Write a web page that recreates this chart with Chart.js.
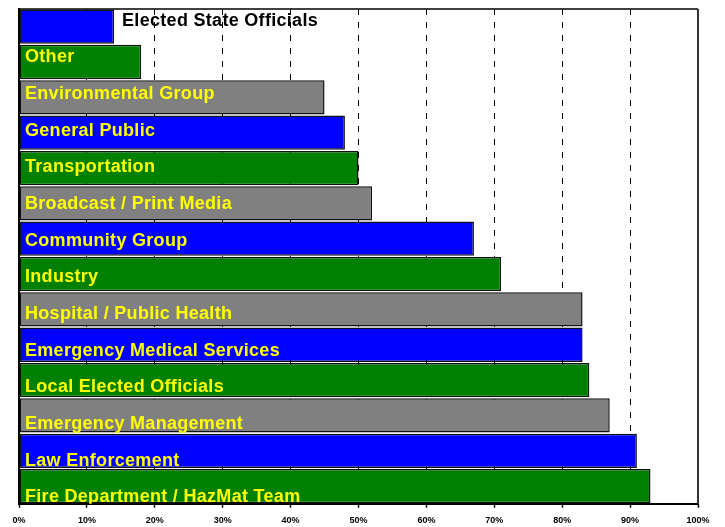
<!DOCTYPE html>
<html>
<head>
<meta charset="utf-8">
<script src="https://cdn.jsdelivr.net/npm/chart.js@4/dist/chart.umd.min.js"></script>
<style>
  html, body { margin: 0; padding: 0; background: #fff; }
  #wrap { width: 725px; height: 527px; }
</style>
</head>
<body>
<div id="wrap"><canvas id="chartCanvas"></canvas></div>
<script>
// groups, top to bottom
const groups = [
    "Elected State Officials",
    "Other",
    "Environmental Group",
    "General Public",
    "Transportation",
    "Broadcast / Print Media",
    "Community Group",
    "Industry",
    "Hospital / Public Health",
    "Emergency Medical Services",
    "Local Elected Officials",
    "Emergency Management",
    "Law Enforcement",
    "Fire Department / HazMat Team"
];
// percent of respondents
const percents = [14, 18, 45, 48, 50, 52, 67, 71, 83, 83, 84, 87, 91, 93];
const barColors = [
    "#0000ff", "#008000", "#808080", "#0000ff", "#008000", "#808080", "#0000ff",
    "#008000", "#808080", "#0000ff", "#008000", "#808080", "#0000ff", "#008000"
];
const xTicks = [0, 10, 20, 30, 40, 50, 60, 70, 80, 90, 100];

const FONT = "'Liberation Sans', Arial, sans-serif";

// writes the group names over the bars (or beside a bar that is too short)
const barNames = {
    id: "barNames",
    afterDatasetsDraw(chart) {
        const ctx = chart.ctx;
        const area = chart.chartArea;
        const xs = chart.scales.x;
        const first = area.top + 16.7;
        const step = (area.bottom - 1.5 - first) / (groups.length - 1);
        ctx.save();
        ctx.beginPath();
        ctx.rect(area.left, area.top, area.right - area.left, area.bottom - area.top);
        ctx.clip();
        ctx.font = "bold 18px " + FONT;
        ctx.letterSpacing = "0.3px";
        ctx.textBaseline = "alphabetic";
        ctx.textAlign = "left";
        groups.forEach(function (name, i) {
            const end = xs.getPixelForValue(percents[i]);
            const w = ctx.measureText(name).width;
            let x = xs.getPixelForValue(0) + 6;
            let color = "#ffff00";
            if (x + w > end) {
                x = end + 8;
                color = "#000000";
            }
            ctx.fillStyle = color;
            ctx.fillText(name, x, first + i * step);
        });
        ctx.restore();
    }
};

// top and right edges of the plot frame
const plotFrame = {
    id: "plotFrame",
    afterDraw(chart) {
        const ctx = chart.ctx;
        const a = chart.chartArea;
        ctx.save();
        ctx.strokeStyle = "#000";
        ctx.lineWidth = 1.5;
        ctx.beginPath();
        ctx.moveTo(a.left, a.top);
        ctx.lineTo(a.right, a.top);
        ctx.stroke();
        ctx.strokeStyle = "#333";
        ctx.lineWidth = 2;
        ctx.beginPath();
        ctx.moveTo(a.right, a.top);
        ctx.lineTo(a.right, a.bottom);
        ctx.stroke();
        ctx.restore();
    }
};

new Chart("chartCanvas", {
    type: "bar",
    data: {
        labels: groups,
        datasets: [{
            data: percents,
            backgroundColor: barColors,
            borderColor: "#111",
            borderWidth: 1.5,
            borderSkipped: false,
            categoryPercentage: 1,
            barPercentage: 0.97
        }]
    },
    options: {
        indexAxis: "y",
        responsive: true,
        maintainAspectRatio: false,
        animation: false,
        events: [],
        layout: {
            padding: { left: 11, right: 27, top: 9, bottom: -7 }
        },
        plugins: {
            legend: { display: false },
            tooltip: { enabled: false },
            title: { display: false }
        },
        scales: {
            x: {
                min: 0,
                max: 100,
                afterBuildTicks(axis) {
                    axis.ticks = xTicks.map(v => ({ value: v }));
                },
                grid: {
                    color: "#000",
                    lineWidth: 1,
                    drawTicks: true,
                    tickLength: 4,
                    tickColor: "#000",
                    tickWidth: 1.5,
                    tickBorderDash: []
                },
                border: {
                    display: true,
                    color: "#000",
                    width: 2,
                    dash: [6, 7]
                },
                ticks: {
                    color: "#000",
                    padding: 7.7,
                    maxRotation: 0,
                    autoSkip: false,
                    font: { family: FONT, size: 9, weight: "bold" },
                    callback: v => v + "%"
                }
            },
            y: {
                grid: { display: false },
                ticks: { display: false },
                border: { display: true, color: "#000", width: 2 }
            }
        }
    },
    plugins: [barNames, plotFrame]
});
</script>
</body>
</html>
